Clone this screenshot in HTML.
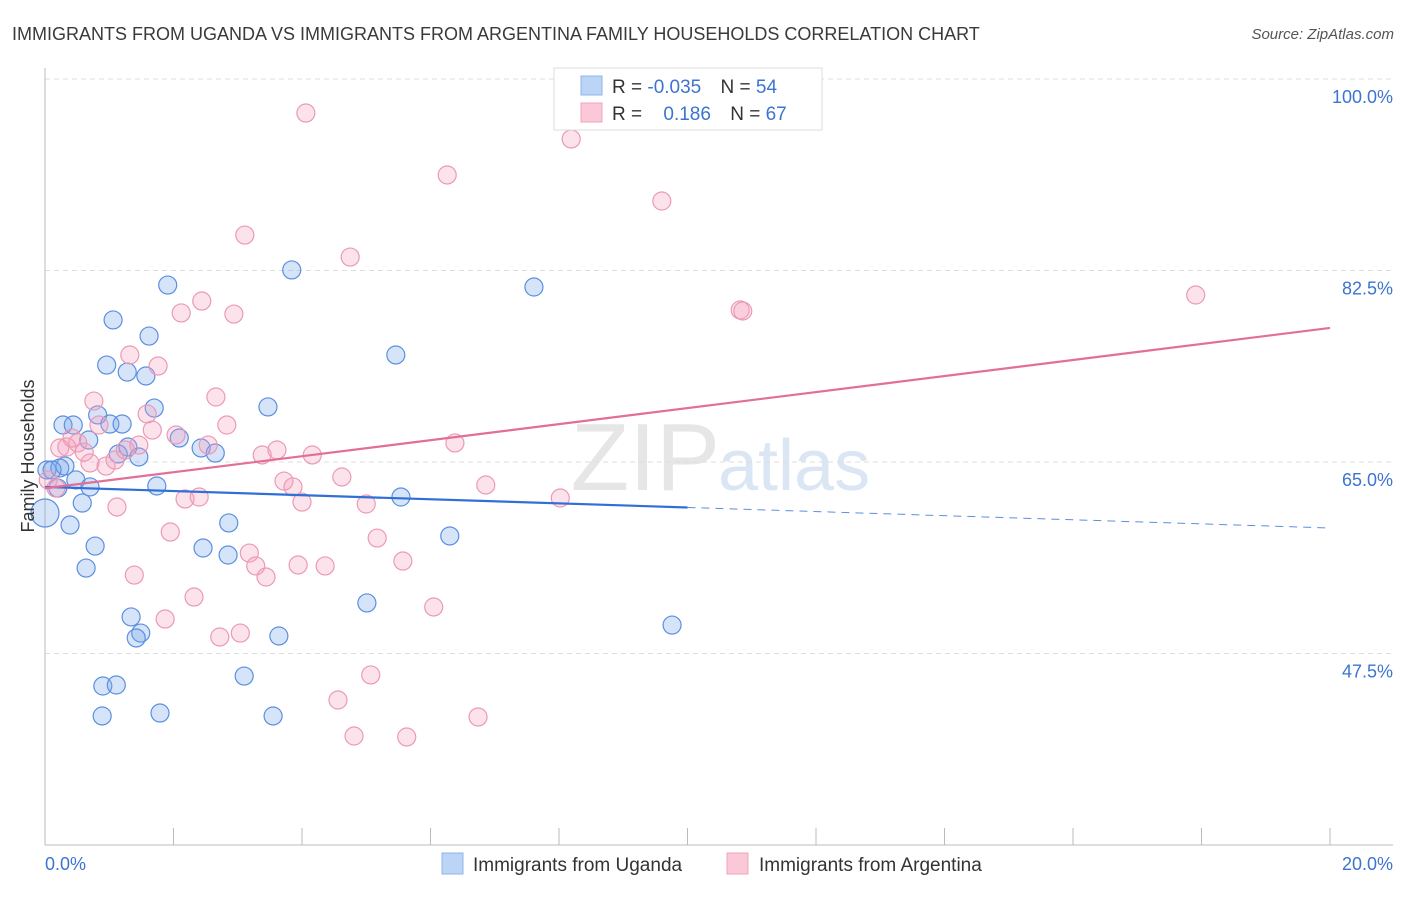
<!DOCTYPE html>
<html><head><meta charset="utf-8"><style>
body{margin:0;background:#fff;font-family:"Liberation Sans",sans-serif}
svg text{font-family:"Liberation Sans",sans-serif}
</style></head><body>
<svg id="chart" width="1406" height="892" viewBox="0 0 1406 892">
<text x="12" y="40" font-size="18" fill="#3a3a3a">IMMIGRANTS FROM UGANDA VS IMMIGRANTS FROM ARGENTINA FAMILY HOUSEHOLDS CORRELATION CHART</text>
<text x="1394" y="39" font-size="15" fill="#555" text-anchor="end" font-style="italic">Source: ZipAtlas.com</text>
<text x="720" y="490" font-size="96" fill="#e6e6e6" text-anchor="end" font-family="Liberation Serif">ZIP</text>
<text x="718" y="490" font-size="72" fill="#dbe6f5">atlas</text>
<g id="grid"></g>
<g id="axes"></g>
<g id="marks"></g>
<text transform="translate(34,456) rotate(-90)" font-size="18" fill="#333" text-anchor="middle">Family Households</text>
<g>
<rect x="554" y="68" width="268" height="62" fill="#fff" stroke="#ddd"/>
<rect x="581" y="76" width="21" height="19" fill="#bcd4f5" stroke="#8fb3ea"/>
<rect x="581" y="103" width="21" height="19" fill="#fac8d6" stroke="#eea6bd"/>
<text x="612" y="93" font-size="19" fill="#333">R = <tspan fill="#3c74d0">-0.035</tspan>  <tspan dx="14">N = </tspan><tspan fill="#3c74d0">54</tspan></text>
<text x="612" y="120" font-size="19" fill="#333">R = <tspan fill="#3c74d0" dx="16">0.186</tspan>  <tspan dx="14">N = </tspan><tspan fill="#3c74d0">67</tspan></text>
</g>
<g>
<rect x="442" y="853" width="21" height="21" fill="#bcd4f5" stroke="#8fb3ea"/>
<text x="473" y="871" font-size="19" fill="#333">Immigrants from Uganda</text>
<rect x="727" y="853" width="21" height="21" fill="#fac8d6" stroke="#eea6bd"/>
<text x="759" y="871" font-size="19" fill="#333">Immigrants from Argentina</text>
</g>
</svg>
<script>
const blueX=[0.03,0.23,0.31,0.20,0.48,0.70,0.58,0.39,0.78,0.64,0.28,0.44,0.68,0.82,1.01,1.20,1.29,1.14,1.46,0.96,1.28,1.57,1.06,1.62,1.91,1.70,2.09,1.74,2.43,2.65,2.86,2.46,2.85,3.84,3.47,5.46,5.54,6.30,7.61,5.01,3.64,1.34,1.49,1.42,0.90,1.11,3.10,0.89,1.79,3.55,9.76,0.11,0];
const blueY=[64.27,64.45,64.63,62.62,63.36,62.72,61.25,59.24,57.32,55.31,68.38,68.38,67.01,69.30,68.47,68.47,66.37,65.73,65.46,73.86,73.22,72.86,77.98,76.51,81.17,69.93,67.19,62.81,66.28,65.82,59.43,57.14,56.50,82.55,70.03,74.78,61.80,58.24,80.99,52.12,49.10,50.84,49.37,48.92,44.53,44.62,45.44,41.79,42.06,41.79,50.10,64.27,60.34];
const pinkX=[4.06,8.19,6.26,9.60,3.11,4.75,17.91,10.82,10.86,2.44,2.12,2.94,1.32,1.76,0.76,1.59,2.66,2.83,2.04,0.84,0.23,0.34,0.51,0.61,0.70,0.95,1.09,1.67,1.46,2.54,3.61,3.38,4.16,6.38,4.62,3.72,3.86,4.00,5.00,6.86,8.02,2.18,2.40,1.12,1.95,5.17,3.18,3.28,3.44,3.94,4.36,5.57,1.39,2.32,1.87,2.72,3.04,6.05,5.07,4.56,4.81,5.63,6.74,0.17,0.05,0.42,1.25];
const pinkY=[96.89,94.52,91.23,88.85,85.74,83.73,80.26,78.89,78.80,79.71,78.62,78.52,74.78,73.77,70.57,69.39,70.94,68.38,67.47,68.38,66.28,66.37,66.74,65.91,64.91,64.63,65.18,67.92,66.55,66.55,66.10,65.64,65.64,66.74,63.63,63.26,62.72,61.34,61.16,62.90,61.71,61.62,61.80,60.89,58.60,58.05,56.68,55.50,54.49,55.59,55.50,55.95,54.67,52.66,50.65,49.01,49.37,51.75,45.54,43.25,39.96,39.87,41.70,62.62,63.36,67.19,66.10];
const yTicks=[100,82.5,65,47.5];
const yTickLabels=["100.0%","82.5%","65.0%","47.5%"];
const xTicks=[0,2,4,6,8,10,12,14,16,18,20];
const blueTrend=[62.72,58.97];
const pinkTrend=[62.6,77.25];
const NS="http://www.w3.org/2000/svg";
const xs=v=>45+v*64.25;
const ys=v=>462-(v-65)*10.943;
function mk(tag,attrs,parent){const e=document.createElementNS(NS,tag);for(const k in attrs)e.setAttribute(k,attrs[k]);parent.appendChild(e);return e;}
const grid=document.getElementById('grid'),axes=document.getElementById('axes'),marks=document.getElementById('marks');
yTicks.forEach((t,i)=>{
 const l=mk('line',{x1:45,x2:1393,y1:ys(t),y2:ys(t),stroke:'#ddd','stroke-dasharray':'5,4'},grid);
 
 
 const tx=mk('text',{x:1393,y:ys(t)+24,'font-size':18,fill:'#3c74d0','text-anchor':'end'},axes);
 tx.textContent=yTickLabels[i];
 
 
});
const ax=mk('line',{x1:45,x2:1393,y1:845,y2:845,stroke:'#bbb'},axes);


const ay=mk('line',{x1:45,x2:45,y1:68,y2:845,stroke:'#bbb'},axes);


xTicks.forEach(t=>{
 const l=mk('line',{x1:xs(t),x2:xs(t),y1:828,y2:845,stroke:'#bbb'},axes);
 
 
});
const xl0=mk('text',{x:45,y:870,'font-size':18,fill:'#3c74d0'},axes);xl0.textContent='0.0%';


const xl1=mk('text',{x:1393,y:870,'font-size':18,fill:'#3c74d0','text-anchor':'end'},axes);xl1.textContent='20.0%';


blueX.forEach((x,i)=>{
 const c=mk('circle',{cx:xs(x),cy:ys(blueY[i]),r:(i===blueX.length-1)?14:9,fill:'rgba(120,165,235,0.3)',stroke:'#5b8fe0','stroke-width':1.2},marks);
 
 
});
pinkX.forEach((x,i)=>{
 const c=mk('circle',{cx:xs(x),cy:ys(pinkY[i]),r:9,fill:'rgba(245,160,190,0.3)',stroke:'#eb9ab6','stroke-width':1.2},marks);
 
 
});
const bmid=blueTrend[0]+(blueTrend[1]-blueTrend[0])*0.5;
const bl=mk('line',{x1:xs(0),y1:ys(blueTrend[0]),x2:xs(10),y2:ys(bmid),stroke:'#2f6fd6','stroke-width':2.2},marks);


const bd=mk('line',{x1:xs(10),y1:ys(bmid),x2:xs(20),y2:ys(blueTrend[1]),stroke:'#5b8fe0','stroke-width':1,'stroke-dasharray':'8,6'},marks);


const pl=mk('line',{x1:xs(0),y1:ys(pinkTrend[0]),x2:xs(20),y2:ys(pinkTrend[1]),stroke:'#e36e98','stroke-width':2.2},marks);


</script>
</body></html>
